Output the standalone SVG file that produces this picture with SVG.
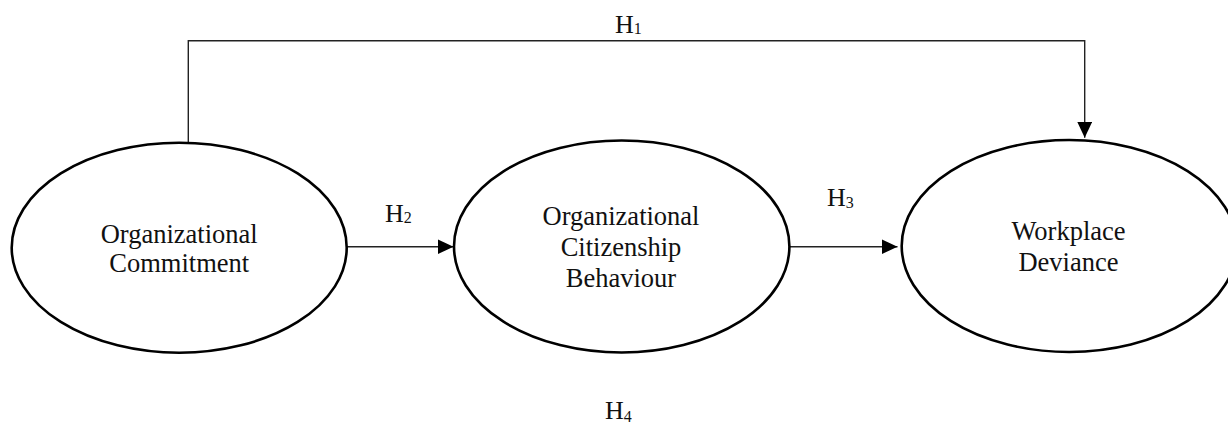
<svg xmlns="http://www.w3.org/2000/svg" width="1228" height="423" viewBox="0 0 1228 423">
<style>
.node ellipse{fill:#fff;stroke:#000;stroke-width:2.6}
.lbl{font-family:"Liberation Serif","Times New Roman",serif;font-size:26.5px;fill:#111;text-anchor:middle}
.h{font-family:"Liberation Serif","Times New Roman",serif;font-size:26px;fill:#111}
.sub{font-size:16px}
.conn{fill:none;stroke:#222;stroke-width:1.4}
</style>
<defs>
<marker id="arr" markerUnits="userSpaceOnUse" markerWidth="16" markerHeight="15" refX="16" refY="7.5" orient="auto">
<path d="M0,0 L16,7.5 L0,15 z" fill="#000"/>
</marker>
</defs>
<rect width="1228" height="423" fill="#fff"/>
<g id="connectors">
<path class="conn" d="M188.3,142 V40.7 H1084.7 V137.7" marker-end="url(#arr)"/>
<path class="conn" d="M346.7,246.7 H453.5" marker-end="url(#arr)"/>
<path class="conn" d="M786.7,246.7 H897.5" marker-end="url(#arr)"/>
</g>
<g id="node-oc" class="node">
<ellipse cx="179.2" cy="247.7" rx="167.5" ry="105"/>
<text class="lbl" x="179.2" y="243.3">Organizational</text>
<text class="lbl" x="179.2" y="272.3">Commitment</text>
</g>
<g id="node-ocb" class="node">
<ellipse cx="621.7" cy="246.5" rx="167.7" ry="106"/>
<text class="lbl" x="621" y="225">Organizational</text>
<text class="lbl" x="621" y="255.7">Citizenship</text>
<text class="lbl" x="621" y="286.5">Behaviour</text>
</g>
<g id="node-wd" class="node">
<ellipse cx="1069.2" cy="246" rx="167.5" ry="106"/>
<text class="lbl" x="1068.5" y="240">Workplace</text>
<text class="lbl" x="1068.5" y="270.7">Deviance</text>
</g>
<g id="labels">
<text class="h" x="615" y="32.7">H<tspan class="sub" dy="1.6">1</tspan></text>
<text class="h" x="385" y="221.7">H<tspan class="sub" dy="1.6">2</tspan></text>
<text class="h" x="827" y="206">H<tspan class="sub" dy="2">3</tspan></text>
<text class="h" x="605" y="419.3">H<tspan class="sub" dy="2.4">4</tspan></text>
</g>
</svg>
